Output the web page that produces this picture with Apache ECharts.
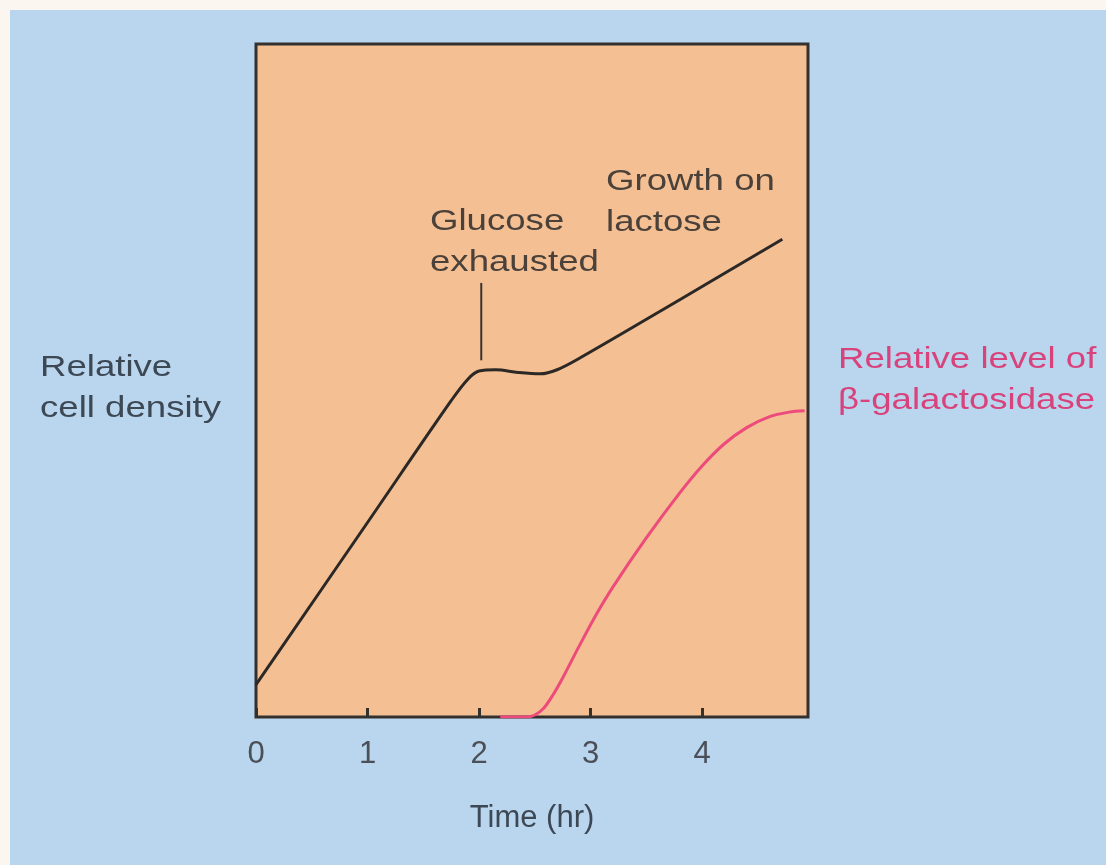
<!DOCTYPE html>
<html>
<head>
    <meta charset="utf-8">
    <script src="https://cdn.jsdelivr.net/npm/echarts@6/dist/echarts.min.js"></script>
    <style>
        html, body { margin: 0; padding: 0; background: #fbf6ef; }
    </style>
</head>
<body>
    <div id="main" style="width: 1106px;height:865px;"></div>
	<script type="text/javascript">
	// time in hours, values on a 0..100 relative scale
	var timeTicks = [0, 1, 2, 3, 4];
	var cellDensity = [
		[0, 4.8], [1.0, 28.9], [1.75, 47.0], [1.9, 50.2], [2.0, 51.4], [2.15, 51.6],
		[2.35, 51.2], [2.55, 51.0], [2.7, 51.6], [2.9, 53.3], [3.8, 62.0], [4.72, 71.0]
	];
	var galactosidase = [
		[2.19, 0], [2.42, 0], [2.5, 0.3], [2.58, 1.3], [2.66, 3.2], [2.75, 5.8],
		[2.9, 10.6], [3.05, 15.2], [3.2, 19.3], [3.5, 26.6], [3.8, 33.3], [4.0, 37.3],
		[4.2, 40.6], [4.4, 43.0], [4.6, 44.6], [4.78, 45.3], [4.92, 45.5]
	];
	var glucoseMarker = [[2.02, 53.0], [2.02, 64.5]];

	var font = '"Liberation Sans", Arial, sans-serif';
	var txt = function (x, y, s, color) {
		return {
			type: 'text', x: x, y: y, z: 10, scaleX: 1.22,
			style: { text: s, font: '30px ' + font, fill: color, lineHeight: 41 }
		};
	};

	myChart = echarts.init(document.getElementById('main'));
	myChart.setOption(option = {
		backgroundColor: '#fbf6ef',
		animation: false,
		grid: { left: 256, right: 298, top: 44, bottom: 148, show: true,
			backgroundColor: '#f4bf93', borderColor: '#33302e', borderWidth: 3 },
		graphic: [
			{ type: 'rect', left: 10, top: 10, z: -10, silent: true,
				shape: { width: 1096, height: 855 }, style: { fill: '#bad5ee' } },
			txt(40, 347, 'Relative\ncell density', '#3d4855'),
			txt(430, 201, 'Glucose\nexhausted', '#4a413a'),
			txt(606, 161, 'Growth on\nlactose', '#4a413a'),
			txt(838, 339, 'Relative level of\nβ-galactosidase', '#d9437c')
		],
		xAxis: {
			type: 'value', min: 0, max: 4.95, interval: 1,
			name: 'Time (hr)', nameLocation: 'middle', nameGap: 86,
			nameTextStyle: { fontFamily: font, fontSize: 31, color: '#3d4855' },
			axisLine: { show: false },
			axisTick: { show: true, inside: true, length: 9, lineStyle: { color: '#33302e', width: 3 } },
			axisLabel: { margin: 22, fontFamily: font, fontSize: 31, color: '#4a4f58',
				showMaxLabel: false,
				formatter: function (v) { return timeTicks.indexOf(v) >= 0 ? String(v) : ''; } },
			splitLine: { show: false }
		},
		yAxis: {
			type: 'value', min: 0, max: 100,
			axisLine: { show: false }, axisTick: { show: false },
			axisLabel: { show: false }, splitLine: { show: false }
		},
		series: [
			{
				type: 'line', data: cellDensity, smooth: 0.35, symbol: 'none',
				lineStyle: { color: '#2b2826', width: 3 }
			},
			{
				type: 'line', data: galactosidase, smooth: 0.3, symbol: 'none',
				lineStyle: { color: '#ec4b7c', width: 3 }
			},
			{
				type: 'line', data: glucoseMarker, symbol: 'none',
				lineStyle: { color: '#3a3532', width: 2 }
			}
		]
	});
	</script>
</body>
</html>
